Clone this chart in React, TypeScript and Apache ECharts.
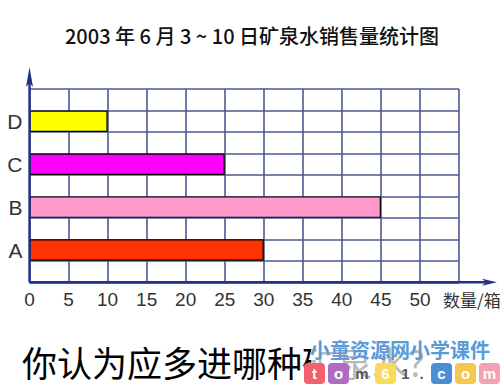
import React, { useEffect, useRef } from "react";
import * as echarts from "echarts";

const titleText = "2003 年 6 月 3 ~ 10 日矿泉水销售量统计图";
const categories = ["A", "B", "C", "D"];
const sales = [30, 45, 25, 10];
const barColors = ["#ff3300", "#ff99cc", "#ff00ff", "#ffff00"];
const xTicks = [0, 5, 10, 15, 20, 25, 30, 35, 40, 45, 50, 55];
const xUnit = "数量/箱";
const question = "你认为应多进哪种矿泉水？";
const watermarkTop = "小童资源网小学课件";
const watermarkLetters = ["t", "o", "m", "6", "1", ".", "c", "o", "m"];
const watermarkColors = ["#f0606e", "#b06cc0", "", "#f6dc5a", "", "", "#4a8fd4", "#f7c64e", "#f2a2b2"];

const GRID_COLOR = "#4d5795";
const AXIS_COLOR = "#23318a";

export default function App() {
  const ref = useRef<HTMLDivElement>(null);
  useEffect(() => {
    if (!ref.current) return;
    document.body.style.margin = "0";
    const chart = echarts.init(ref.current, undefined, { renderer: "svg" });

    // 9 slots on the category axis: gap, A, gap, B, gap, C, gap, D, gap
    const slots: string[] = [];
    const slotData: any[] = [];
    for (let i = 0; i < categories.length; i++) {
      slots.push("gap" + i);
      slotData.push(null);
      slots.push(categories[i]);
      slotData.push({
        value: sales[i],
        itemStyle: { color: barColors[i] },
      });
    }
    slots.push("gap" + categories.length);
    slotData.push(null);

    const maxX = xTicks[xTicks.length - 1];
    const step = xTicks[1] - xTicks[0];

    const gLeft = 29.5;
    const gRight = 459;
    const gTop = 89;
    const gBottom = 282.3;

    const wmGraphics: any[] = [];
    let wx = 304;
    watermarkLetters.forEach((ch, i) => {
      const c = watermarkColors[i];
      const w = c ? 21 : ch === "m" ? 20 : 13;
      if (c) {
        wmGraphics.push({
          type: "rect",
          shape: { x: wx, y: 363, width: 21, height: 21, r: 4 },
          style: { fill: c },
          z: 102,
        });
      }
      wmGraphics.push({
        type: "text",
        x: wx + w / 2,
        y: 373.5,
        style: {
          text: ch,
          fill: c ? "#ffffff" : "#555555",
          font: "bold 15px 'Liberation Sans', sans-serif",
          align: "center",
          verticalAlign: "middle",
        },
        z: 103,
      });
      wx += w + 3;
    });

    chart.setOption({
      animation: false,
      title: {
        text: titleText,
        left: "center",
        top: 20,
        textStyle: {
          fontFamily: "'Noto Sans CJK SC', sans-serif",
          fontSize: 20,
          fontWeight: 500,
          color: "#111111",
        },
      },
      grid: {
        left: gLeft,
        right: 504 - gRight,
        top: gTop,
        bottom: 386 - gBottom,
        containLabel: false,
      },
      xAxis: {
        type: "value",
        min: 0,
        max: maxX,
        interval: step,
        axisLine: { show: false },
        axisTick: { show: false },
        axisLabel: {
          margin: 8,
          fontSize: 19,
          color: "#333333",
          fontFamily: "'Liberation Sans', Arial, sans-serif",
          formatter: (v: number) => (v === maxX ? "" : String(v)),
        },
        splitLine: { show: true, lineStyle: { color: GRID_COLOR, width: 1.6 } },
      },
      yAxis: {
        type: "category",
        data: slots,
        axisLine: { show: false },
        axisTick: { show: false },
        axisLabel: {
          interval: 0,
          margin: 7,
          fontSize: 21,
          color: "#333333",
          fontFamily: "'Liberation Sans', Arial, sans-serif",
          formatter: (v: string) => (v.startsWith("gap") ? "" : v),
        },
        splitLine: {
          show: true,
          interval: 0,
          lineStyle: { color: GRID_COLOR, width: 1.6 },
        },
      },
      series: [
        {
          type: "bar",
          data: slotData,
          barWidth: "100%",
          barCategoryGap: 0,
          itemStyle: { borderColor: "#000000", borderWidth: 1.2 },
          z: 3,
        },
      ],
      graphic: [
        {
          type: "line",
          shape: { x1: gLeft, y1: gBottom, x2: gLeft, y2: 80 },
          style: { stroke: AXIS_COLOR, lineWidth: 2.4 },
          z: 100,
        },
        {
          type: "polygon",
          shape: { points: [[gLeft, 67], [gLeft + 3.5, 87], [gLeft, 83], [gLeft - 3.5, 87]] },
          style: { fill: AXIS_COLOR },
          z: 100,
        },
        {
          type: "line",
          shape: { x1: gLeft, y1: gBottom, x2: 488, y2: gBottom },
          style: { stroke: AXIS_COLOR, lineWidth: 2.4 },
          z: 100,
        },
        {
          type: "polygon",
          shape: { points: [[497, gBottom], [482, gBottom - 3.5], [486, gBottom], [482, gBottom + 3.5]] },
          style: { fill: AXIS_COLOR },
          z: 100,
        },
        {
          type: "text",
          x: 443,
          y: 299,
          style: {
            text: xUnit,
            fill: "#333333",
            font: "17px 'Noto Sans CJK SC', sans-serif",
            verticalAlign: "middle",
          },
          z: 100,
        },
        {
          type: "text",
          x: 22,
          y: 361,
          style: {
            text: question,
            fill: "#000000",
            font: "35px 'Noto Sans CJK SC', serif",
            verticalAlign: "middle",
          },
          z: 100,
        },
        {
          type: "rect",
          shape: { x: 311, y: 336, width: 193, height: 50 },
          style: { fill: "rgba(255,255,255,0.72)" },
          z: 101,
        },
        {
          type: "text",
          x: 310,
          y: 349,
          style: {
            text: watermarkTop,
            fill: "#5b9bd8",
            font: "bold 20px 'Noto Sans CJK SC', sans-serif",
            verticalAlign: "middle",
          },
          z: 102,
        },
        ...wmGraphics,
      ],
    });
    return () => chart.dispose();
  }, []);
  return <div ref={ref} style={{ width: 504, height: 386 }} />;
}
